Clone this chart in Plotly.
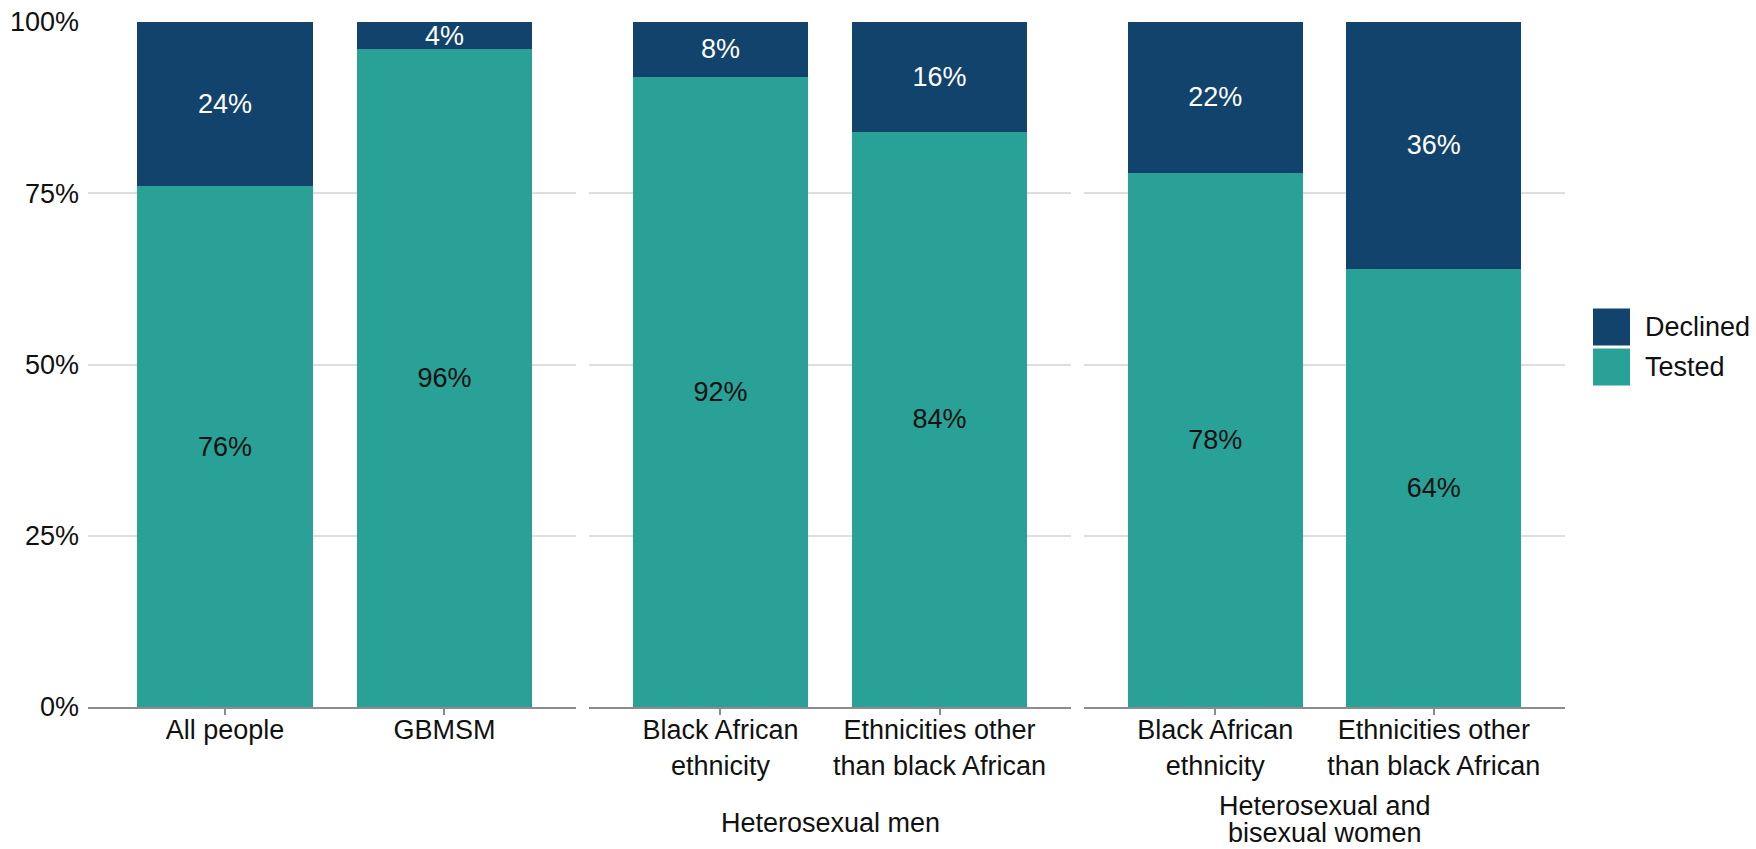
import plotly.graph_objects as go

# ---- data ----
group_label_lines = [[], ["Heterosexual men"], ["Heterosexual and", "bisexual women"]]
categories = [
    ["All people", "GBMSM"],
    ["Black African<br>ethnicity", "Ethnicities other<br>than black African"],
    ["Black African<br>ethnicity", "Ethnicities other<br>than black African"],
]
tested = [[76, 96], [92, 84], [78, 64]]
declined = [[24, 4], [8, 16], [22, 36]]
y_ticks = [0, 25, 50, 75, 100]
y_ticklabels = ["0%", "25%", "50%", "75%", "100%"]

# ---- style ----
W, H = 1756, 849
C_TESTED = "#29A197"
C_DECLINED = "#12436D"
GRID = "#DEDEDE"
AXIS = "#8C8C8C"
FONT = "Liberation Sans, Arial, sans-serif"
FS = 27

panel_px = [(88, 576), (589, 1071), (1084, 1565)]
x_ranges = [[-0.625, 1.6], [-0.6, 1.6], [-0.6, 1.6]]
y_dom = [1 - 707 / H, 1 - 22 / H]

fig = go.Figure()
for i in range(3):
    xa = "x" if i == 0 else f"x{i+1}"
    ya = "y" if i == 0 else f"y{i+1}"
    fig.add_trace(go.Bar(
        x=categories[i], y=tested[i], xaxis=xa, yaxis=ya, name="Tested",
        marker=dict(color=C_TESTED, line=dict(width=0)), width=0.8,
        text=[f"{v}%" for v in tested[i]], textposition="inside",
        insidetextanchor="middle", constraintext="none",
        textfont=dict(color="#111111", size=FS, family=FONT),
        showlegend=False, hoverinfo="skip"))
    fig.add_trace(go.Bar(
        x=categories[i], y=declined[i], xaxis=xa, yaxis=ya, name="Declined",
        marker=dict(color=C_DECLINED, line=dict(width=0)), width=0.8,
        text=[f"{v}%" for v in declined[i]], textposition="inside",
        insidetextanchor="middle", constraintext="none",
        textfont=dict(color="#FFFFFF", size=FS, family=FONT),
        showlegend=False, hoverinfo="skip"))

layout = dict(
    width=W, height=H, margin=dict(l=0, r=0, t=0, b=0, autoexpand=False),
    paper_bgcolor="white", plot_bgcolor="white",
    barmode="stack", font=dict(family=FONT, size=FS, color="#111111"),
    showlegend=False,
)
for i in range(3):
    xk = "xaxis" if i == 0 else f"xaxis{i+1}"
    yk = "yaxis" if i == 0 else f"yaxis{i+1}"
    x0, x1 = panel_px[i]
    layout[xk] = dict(
        domain=[x0 / W, x1 / W], anchor="y" if i == 0 else f"y{i+1}",
        type="category", range=x_ranges[i], showgrid=False,
        showline=True, linecolor=AXIS, linewidth=2,
        ticks="outside", ticklen=6, tickwidth=2, tickcolor=AXIS,
        tickfont=dict(size=FS, color="#111111", family=FONT),
        ticklabelstandoff=-8,
        zeroline=False, fixedrange=True, automargin=False,
    )
    layout[yk] = dict(
        domain=y_dom, anchor="x" if i == 0 else f"x{i+1}",
        range=[0, 100], tickvals=y_ticks, ticktext=y_ticklabels,
        showticklabels=(i == 0), showgrid=True, gridcolor=GRID, gridwidth=2,
        zeroline=False, showline=False, ticks="",
        tickfont=dict(size=FS, color="#111111", family=FONT),
        ticklabelstandoff=8, fixedrange=True, automargin=False,
    )
fig.update_layout(**layout)

# group labels under the panels (one annotation per line for tight spacing)
group_line_y = {1: [823], 2: [806, 833]}
for i in range(3):
    lines = group_label_lines[i]
    if not lines:
        continue
    x0, x1 = panel_px[i]
    for line, yc in zip(lines, group_line_y[len(lines)]):
        fig.add_annotation(
            text=line, xref="paper", yref="paper",
            x=(x0 + x1) / 2 / W, y=1 - yc / H,
            xanchor="center", yanchor="middle", showarrow=False,
            font=dict(size=FS, color="#111111", family=FONT))

# manual legend (large square keys)
legend_items = [("Declined", C_DECLINED, 327), ("Tested", C_TESTED, 367)]
for name, col, yc in legend_items:
    fig.add_shape(type="rect", xref="paper", yref="paper",
                  x0=1593 / W, x1=1630 / W, y0=1 - (yc + 18.5) / H, y1=1 - (yc - 18.5) / H,
                  fillcolor=col, line=dict(width=0))
    fig.add_annotation(text=name, xref="paper", yref="paper",
                       x=1643 / W, y=1 - yc / H, xanchor="left", yanchor="middle",
                       showarrow=False, font=dict(size=FS, color="#111111", family=FONT))

fig.write_html("out.html")
